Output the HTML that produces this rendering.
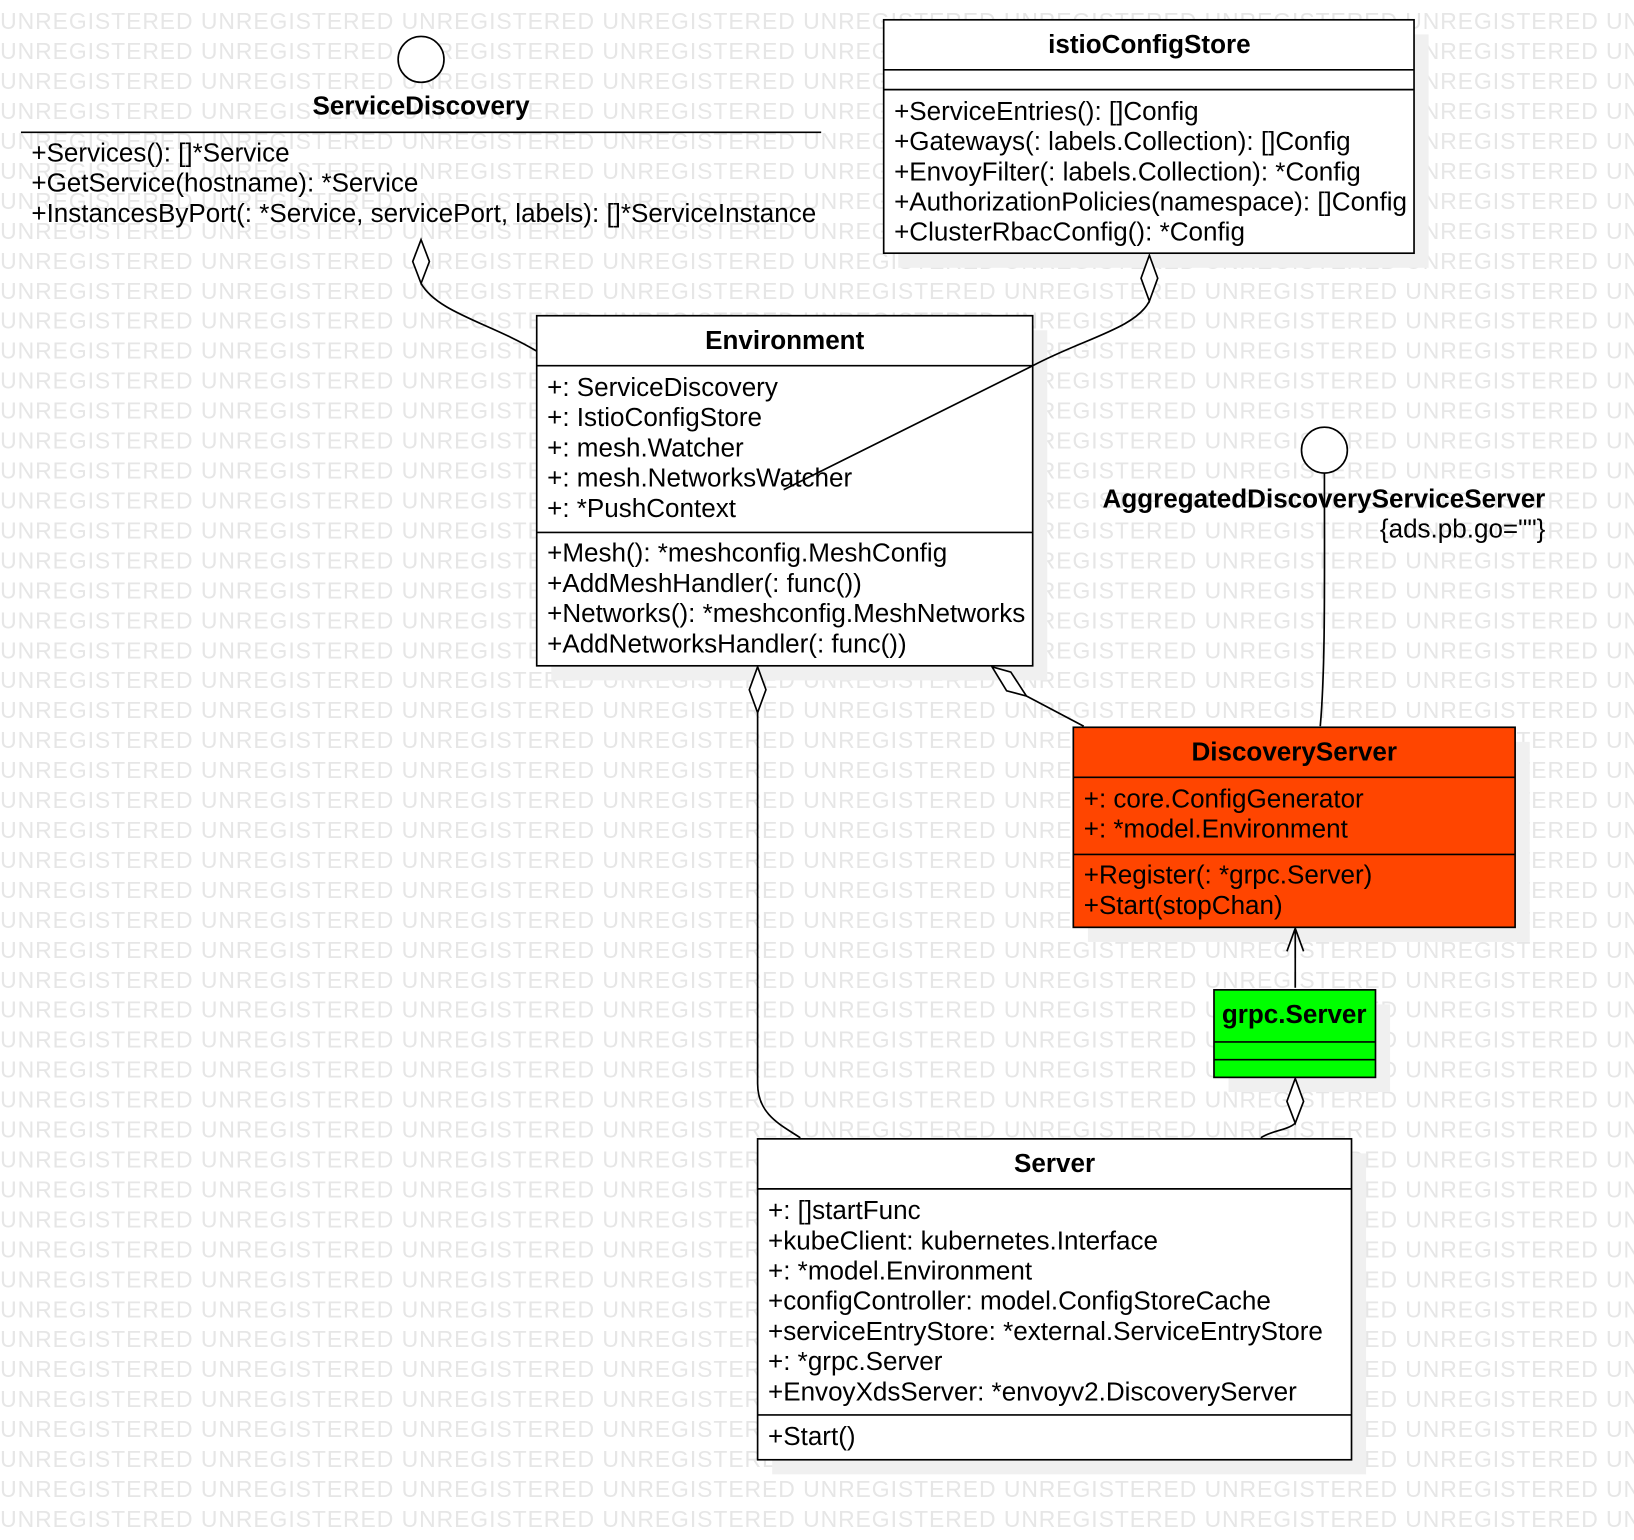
<!DOCTYPE html>
<html><head><meta charset="utf-8"><style>
html,body{margin:0;padding:0;background:#fff;}
svg{display:block;}
text{font-family:"Liberation Sans",Arial,sans-serif;font-size:25px;fill:#000;}
.wm{fill:#e6e6e6;font-size:22px;}
.b{font-weight:bold;}
</style></head><body>
<svg width="1634" height="1540" viewBox="0 0 1568 1478" xmlns="http://www.w3.org/2000/svg">
<g id="wm"></g>
<script>
(function(){var g=document.getElementById('wm');var s='';for(var i=0;i<12;i++)s+='UNREGISTERED ';
for(var r=0;r<52;r++){var t=document.createElementNS('http://www.w3.org/2000/svg','text');t.setAttribute('x','0');t.setAttribute('y',String(28+r*28.75));t.setAttribute('class','wm');t.setAttribute('textLength','2304');t.textContent=s;g.appendChild(t);}})();
</script>
<g fill="#f0f0f0">
<rect x="862" y="33" width="509" height="224"/>
<rect x="529" y="317" width="476" height="336"/>
<rect x="1044" y="712" width="424" height="192"/>
<rect x="1179" y="964" width="155" height="84"/>
<rect x="741" y="1107" width="570" height="308"/>
</g>
<g fill="none" stroke="#000" stroke-width="1.6">
<path d="M404 272 C420 300 470 310 515 337"/>
<polygon points="404,230 412,251 404,272 396,251" fill="#fff"/>
<path d="M727 684 L727 1040 C727 1070 750 1080 768 1092"/>
<polygon points="727,640 735,662 727,684 719,662" fill="#fff"/>
<path d="M985 668 L1040 697"/>
<polygon points="952,640 970,645 985,668 966,663" fill="#fff"/>
<path d="M1271 454 C1271 560 1272 640 1267 697"/>
<path d="M1243 948 L1243 891 M1235 913 L1243 891 L1251 913"/>
<path d="M1243 1078 C1235 1085 1220 1085 1210 1092"/>
<polygon points="1243,1035 1251,1057 1243,1078 1235,1057" fill="#fff"/>
<circle cx="404" cy="57" r="22" fill="#fff"/>
<line x1="20" y1="127" x2="788" y2="127"/>
<rect x="848" y="19" width="509" height="224" fill="#fff"/>
<line x1="848" y1="67" x2="1357" y2="67"/><line x1="848" y1="86" x2="1357" y2="86"/>
<rect x="515" y="303" width="476" height="336" fill="#fff"/>
<line x1="515" y1="351" x2="991" y2="351"/><line x1="515" y1="511" x2="991" y2="511"/>
<circle cx="1271" cy="432" r="22" fill="#fff"/>
<rect x="1030" y="698" width="424" height="192" fill="#ff4500"/>
<line x1="1030" y1="746" x2="1454" y2="746"/><line x1="1030" y1="820" x2="1454" y2="820"/>
<rect x="1165" y="950" width="155" height="84" fill="#00ff00"/>
<line x1="1165" y1="1000" x2="1320" y2="1000"/><line x1="1165" y1="1017" x2="1320" y2="1017"/>
<rect x="727" y="1093" width="570" height="308" fill="#fff"/>
<line x1="727" y1="1141" x2="1297" y2="1141"/><line x1="727" y1="1358" x2="1297" y2="1358"/>
<path d="M1103 289 C1090 315 1040 325 991 351 L752 470"/>
<polygon points="1103,245 1111,267 1103,289 1095,267" fill="#fff"/>
</g>
<text x="404" y="110" text-anchor="middle" class="b">ServiceDiscovery</text>
<text x="30" y="155">+Services(): []*Service</text>
<text x="30" y="184">+GetService(hostname): *Service</text>
<text x="30" y="213">+InstancesByPort(: *Service, servicePort, labels): []*ServiceInstance</text>

<text x="1103" y="51" text-anchor="middle" class="b">istioConfigStore</text>
<text x="858" y="115">+ServiceEntries(): []Config</text>
<text x="858" y="144">+Gateways(: labels.Collection): []Config</text>
<text x="858" y="173">+EnvoyFilter(: labels.Collection): *Config</text>
<text x="858" y="202">+AuthorizationPolicies(namespace): []Config</text>
<text x="858" y="231">+ClusterRbacConfig(): *Config</text>

<text x="753" y="335" text-anchor="middle" class="b">Environment</text>
<text x="525" y="380">+: ServiceDiscovery</text>
<text x="525" y="409">+: IstioConfigStore</text>
<text x="525" y="438">+: mesh.Watcher</text>
<text x="525" y="467">+: mesh.NetworksWatcher</text>
<text x="525" y="496">+: *PushContext</text>
<text x="525" y="539">+Mesh(): *meshconfig.MeshConfig</text>
<text x="525" y="568">+AddMeshHandler(: func())</text>
<text x="525" y="597">+Networks(): *meshconfig.MeshNetworks</text>
<text x="525" y="626">+AddNetworksHandler(: func())</text>

<text x="1483" y="487" text-anchor="end" class="b">AggregatedDiscoveryServiceServer</text>
<text x="1483" y="516" text-anchor="end">{ads.pb.go=""}</text>

<text x="1242" y="730" text-anchor="middle" class="b">DiscoveryServer</text>
<text x="1040" y="775">+: core.ConfigGenerator</text>
<text x="1040" y="804">+: *model.Environment</text>
<text x="1040" y="848">+Register(: *grpc.Server)</text>
<text x="1040" y="877">+Start(stopChan)</text>

<text x="1242" y="982" text-anchor="middle" class="b">grpc.Server</text>

<text x="1012" y="1125" text-anchor="middle" class="b">Server</text>
<text x="737" y="1170">+: []startFunc</text>
<text x="737" y="1199">+kubeClient: kubernetes.Interface</text>
<text x="737" y="1228">+: *model.Environment</text>
<text x="737" y="1257">+configController: model.ConfigStoreCache</text>
<text x="737" y="1286">+serviceEntryStore: *external.ServiceEntryStore</text>
<text x="737" y="1315">+:  *grpc.Server</text>
<text x="737" y="1344">+EnvoyXdsServer: *envoyv2.DiscoveryServer</text>
<text x="737" y="1387">+Start()</text>
</svg>
</body></html>
